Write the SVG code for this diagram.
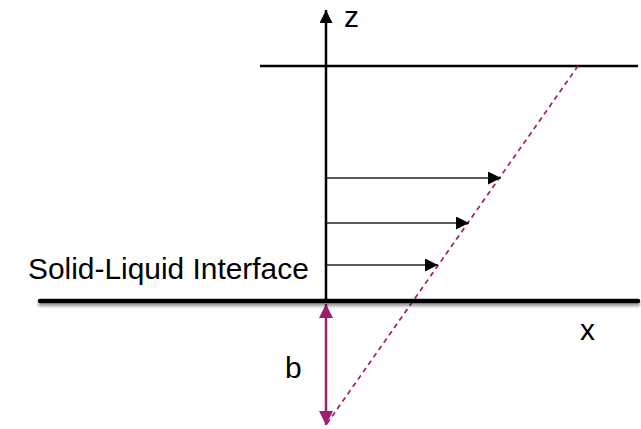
<svg xmlns="http://www.w3.org/2000/svg" width="641" height="429" viewBox="0 0 641 429">
<style>
.lbl{font-family:"Liberation Sans",Arial,sans-serif;font-size:29.9px;fill:#000}
.ax{stroke:#000;stroke-width:2.5;fill:none}
.vel{stroke:#222;stroke-width:1.6;fill:none}
.mg{stroke:#9C1F6E;fill:none}
</style>
<defs>
<marker id="ah" viewBox="0 0 12 12" refX="12" refY="6" markerWidth="13" markerHeight="13" markerUnits="userSpaceOnUse" orient="auto">
<path d="M0,0 L12,6 L0,12 Z" fill="#000"/>
</marker>
<marker id="ahz" viewBox="0 0 12 12" refX="12" refY="6" markerWidth="13" markerHeight="13" markerUnits="userSpaceOnUse" orient="auto">
<path d="M0,0 L12,6 L0,12 Z" fill="#000"/>
</marker>
<marker id="am" viewBox="0 0 12 12" refX="12" refY="6" markerWidth="14" markerHeight="14" markerUnits="userSpaceOnUse" orient="auto-start-reverse">
<path d="M0,0 L12,6 L0,12 Z" fill="#9C1F6E"/>
</marker>
<filter id="sh" filterUnits="userSpaceOnUse" x="20" y="285" width="640" height="40">
<feGaussianBlur in="SourceAlpha" stdDeviation="1.5"/>
<feOffset dx="0" dy="3"/>
<feComponentTransfer><feFuncA type="linear" slope="0.4"/></feComponentTransfer>
<feMerge><feMergeNode/><feMergeNode in="SourceGraphic"/></feMerge>
</filter>
</defs>
<g id="connectors">
<line id="top-line" class="ax" x1="260" y1="66" x2="638" y2="66" stroke-width="2"/>
<line id="dashed" class="mg" x1="578" y1="66" x2="326" y2="425" stroke-width="1.7" stroke-dasharray="5,4"/>
<line id="z-axis" class="ax" x1="326" y1="300" x2="326" y2="10" marker-end="url(#ahz)"/>
<line id="v1" class="vel" x1="326" y1="178" x2="501" y2="178" marker-end="url(#ah)"/>
<line id="v2" class="vel" x1="326" y1="223" x2="469" y2="223" marker-end="url(#ah)"/>
<line id="v3" class="vel" x1="326" y1="265" x2="438" y2="265" marker-end="url(#ah)"/>
<line id="b-arrow" class="mg" x1="326" y1="304" x2="326" y2="425" stroke-width="2.5" marker-start="url(#am)" marker-end="url(#am)"/>
<line id="interface" x1="40" y1="301" x2="638" y2="301" stroke="#000" stroke-width="4.5" stroke-linecap="round" filter="url(#sh)"/>
</g>
<g id="labels">
<text id="z" class="lbl" x="344" y="27">z</text>
<text id="x" class="lbl" x="580" y="340">x</text>
<text id="b" class="lbl" x="285" y="378">b</text>
<text id="solid-liquid" class="lbl" x="28" y="279">Solid-Liquid Interface</text>
</g>
</svg>
